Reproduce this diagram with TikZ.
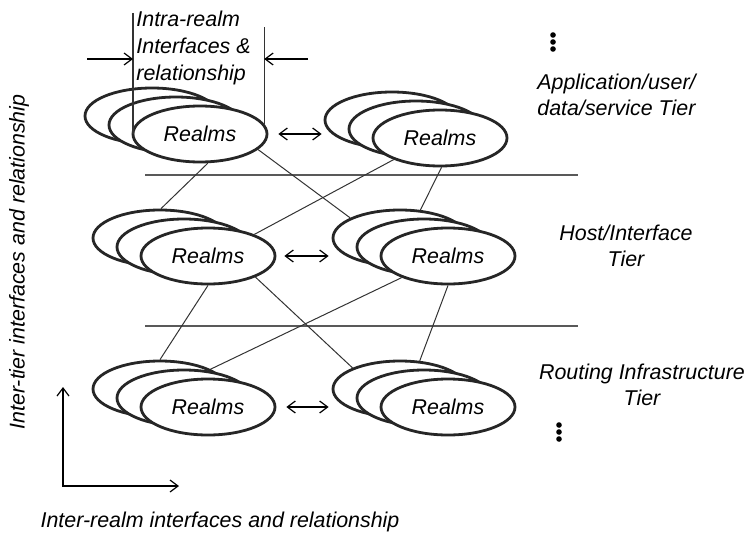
\documentclass[tikz,border=0pt]{standalone}
\usepackage{fontspec}
\setmainfont{Liberation Sans}
\usetikzlibrary{shapes.geometric, arrows.meta, positioning}
\tikzstyle{realm} = [
  ellipse,
  minimum width=67pt,
  minimum height=28pt,
  inner sep=0pt,
  draw=black!85,
  line width=1.4pt,
  fill=white,
  font=\itshape\fontsize{10.7}{13}\selectfont
]
\tikzstyle{tiertext} = [
  inner sep=0pt,
  font=\itshape\fontsize{10.7}{13}\selectfont
]
\tikzstyle{link} = [black!80, line width=0.5pt]
\tikzstyle{tierline} = [black!65, line width=0.9pt]
\tikzstyle{arrow} = [line width=0.6pt, ->, >={Straight Barb[length=4pt,width=6pt]}]
\pgfdeclarelayer{background}
\pgfsetlayers{background,main}

\begin{document}
\begin{tikzpicture}[x=0.5pt, y=-0.5pt]
    \useasboundingbox (0,0) rectangle (753,535);

    % application tier
    \node (tlA) [realm] at (152,116) {};
    \node (tlB) [realm] at (176,125) {};
    \node (tlC) [realm] at (200,134) {Realms};
    \node (trA) [realm] at (392,120) {};
    \node (trB) [realm] at (416,129) {};
    \node (trC) [realm] at (440,138) {Realms};
    % host tier
    \node (mlA) [realm] at (160,238) {};
    \node (mlB) [realm] at (184,247) {};
    \node (mlC) [realm] at (208,256) {Realms};
    \node (mrA) [realm] at (400,238) {};
    \node (mrB) [realm] at (424,247) {};
    \node (mrC) [realm] at (448,256) {Realms};
    % routing tier
    \node (blA) [realm] at (160,389) {};
    \node (blB) [realm] at (184,398) {};
    \node (blC) [realm] at (208,407) {Realms};
    \node (brA) [realm] at (400,389) {};
    \node (brB) [realm] at (424,398) {};
    \node (brC) [realm] at (448,407) {Realms};

    \coordinate (sepTopL) at (145,175);
    \coordinate (sepTopR) at (578,175);
    \coordinate (sepBotL) at (145,326);
    \coordinate (sepBotR) at (578,326);

    \begin{pgfonlayer}{background}
      \draw [tierline] (sepTopL) -- (sepTopR);
      \draw [tierline] (sepBotL) -- (sepBotR);
      \draw [link] (tlC.-75) -- (mlA.88);
      \draw [link] (tlC.-15) -- (mrA.158);
      \draw [link] (trC.205) -- (mlC.25);
      \draw [link] (trC.-87) -- (mrA.54);
      \draw [link] (mlC.-90) -- (blA.90);
      \draw [link] (mlC.-24) -- (brA.156);
      \draw [link] (mrC.205) -- (blB.49);
      \draw [link] (mrC.-90) -- (brA.55);
    \end{pgfonlayer}

    % inter-realm arrows
    \draw [arrow, <->, shorten <=5pt, shorten >=1pt] (tlC.east) -- (tlC.east -| trA.west);
    \draw [arrow, <->, shorten <=4pt, shorten >=1.5pt] (mlC.east) -- (mlC.east -| mrA.west);
    \draw [arrow, <->, shorten <=5pt, shorten >=1.5pt] (blC.east) -- (blC.east -| brA.west);

    % intra-realm marker
    \coordinate (intraL) at (133,13);
    \coordinate (intraR) at (262,27);
    \coordinate (intraArrL) at (87,59);
    \coordinate (intraArrR) at (308,59);
    \draw [link, line width=0.6pt] (intraL) -- (intraL |- tlC.west);
    \draw [link, line width=0.6pt] (tlC.9) -- (tlC.9 |- intraR);
    \draw [arrow] (intraArrL) -- (intraArrL -| intraL);
    \draw [arrow] (intraArrR) -- (intraArrR -| tlC.9);
    \node (intra-text) [tiertext, align=left, anchor=west, font=\itshape\fontsize{10.7}{13.5}\selectfont] at (136,48) {Intra-realm\\Interfaces \&\\relationship};

    % axes
    \coordinate (axisY) at (63,387);
    \coordinate (origin) at (63,486);
    \coordinate (axisX) at (179,486);
    \draw [arrow, <->] (axisY) -- (origin) -- (axisX);
    \node (inter-tier) [tiertext, rotate=90] at (19,262) {Inter-tier interfaces and relationship};
    \node (inter-realm) [tiertext] at (220,522) {Inter-realm interfaces and relationship};

    % tier names
    \node (app-tier) [tiertext, align=left, anchor=west] at (537,95) {Application/user/\\data/service Tier};
    \node (host-tier) [tiertext, align=center] at (626,246) {Host/Interface\\Tier};
    \node (routing-tier) [tiertext, align=center] at (642,385) {Routing Infrastructure\\Tier};
    \foreach \y in {35,42,49} \fill (553,\y) circle (1.4pt);
    \foreach \y in {425,432,439} \fill (559,\y) circle (1.4pt);
\end{tikzpicture}
\end{document}
